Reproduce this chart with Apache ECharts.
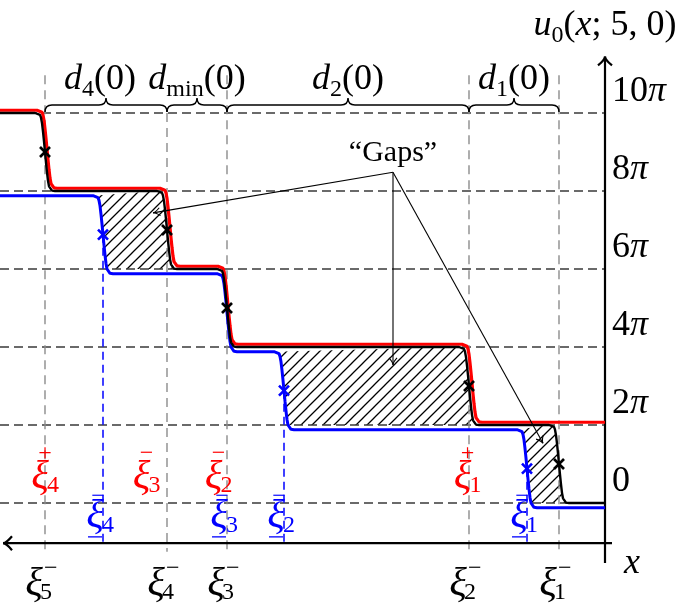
<!DOCTYPE html>
<html>
<head>
<meta charset="utf-8">
<script src="https://cdn.jsdelivr.net/npm/echarts@6/dist/echarts.min.js"></script>
<style>
html, body { margin: 0; padding: 0; background: #fff; }
#chart { width: 685px; height: 608px; }
</style>
</head>
<body>
<div id="chart"></div>
<script>
// x runs to the left (the x arrow points left), u is counted in units of pi
var blackKinks = [4.6, 13.6, 37.8, 43.8, 56.0];   // xi_1^- ... xi_5^-
var redKinks = [13.3, 37.7, 43.5, 55.8];
var blueKinks = [7.8, 32.1, 37.8, 50.2];
var blackBase = 0, redBase = 2.07, blueBase = -0.12;
// one kink profile (offset in x, rise around the centre)
var kinkT = [-1.0, -0.7, -0.5, -0.4, -0.3, -0.2, -0.1, 0, 0.1, 0.2, 0.3, 0.4, 0.5, 0.7, 1.0];
var kinkShape = [-1, -0.99, -0.95, -0.88, -0.74, -0.52, -0.27, 0, 0.27, 0.52, 0.74, 0.88, 0.95, 0.99, 1];
var levels = [0, 2, 4, 6, 8, 10];
var levelLabels = ['0', '2', '4', '6', '8', '10'];
// [black kink, blue kink, lower level]
var gaps = [[4.6, 7.8, 0], [13.6, 32.1, 2], [43.8, 50.2, 6]];
var braces = [[4.6, 13.6], [13.6, 37.8], [37.8, 43.8], [43.8, 56.0]];
var braceSubs = ['1', '2', 'min', '4'];
var blackSubs = ['1', '2', '3', '4', '5'];
var redLabelX = [14.25, 39.15, 46.35, 56.5];
var redSups = ['+', '−', '−', '+'];
var redSubs = ['1', '2', '3', '4'];
var blueSubs = ['1', '2', '3', '4'];
var gapsFrom = [21.2, 8.48];
var gapsTo = [[45.2, 7.44], [21.2, 3.54], [6.2, 1.53]];

var SERIF = '"Liberation Serif", "DejaVu Serif", serif';
function font(size, italic) { return (italic ? 'italic ' : '') + size + 'px ' + SERIF; }
var mctx = document.createElement('canvas').getContext('2d');
function textW(t, size, italic) { mctx.font = font(size, italic); return mctx.measureText(t).width; }

function kinkCurve(kinks, base) {
    var pts = [[0, base]];
    kinks.forEach(function (xk, i) {
        var low = base + 2 * i;
        for (var j = 0; j < kinkT.length; j++) {
            pts.push([xk + kinkT[j], low + 1 + kinkShape[j]]);
        }
    });
    pts.push([60.5, base + 2 * kinks.length]);
    return pts;
}

// hatch pattern
var hatch = document.createElement('canvas');
hatch.width = 11; hatch.height = 11;
(function () {
    var c = hatch.getContext('2d');
    c.strokeStyle = '#000';
    c.lineWidth = 1.3;
    c.beginPath();
    c.moveTo(0, 11); c.lineTo(11, 0);
    c.moveTo(-2, 2); c.lineTo(2, -2);
    c.moveTo(9, 13); c.lineTo(13, 9);
    c.stroke();
})();

function seg(rows, color, width, dash, z) {
    return {
        type: 'custom', z: z, silent: true, data: rows,
        renderItem: function (params, api) {
            var a = api.coord([api.value(0), api.value(1)]);
            var b = api.coord([api.value(2), api.value(3)]);
            return {
                type: 'line',
                shape: { x1: a[0], y1: a[1], x2: b[0], y2: b[1] },
                style: { stroke: color, lineWidth: width, lineDash: dash }
            };
        }
    };
}

function arrows(rows, color, width, len, half, z) {
    return {
        type: 'custom', z: z, silent: true, data: rows,
        renderItem: function (params, api) {
            var a = api.coord([api.value(0), api.value(1)]);
            var b = api.coord([api.value(2), api.value(3)]);
            var dx = b[0] - a[0], dy = b[1] - a[1];
            var L = Math.sqrt(dx * dx + dy * dy);
            dx /= L; dy /= L;
            var nx = -dy, ny = dx;
            var bx = b[0] - dx * len, by = b[1] - dy * len;
            var cx = b[0] - dx * len * 0.35, cy = b[1] - dy * len * 0.35;
            var p = 'M' + (bx + nx * half) + ' ' + (by + ny * half) +
                ' Q' + cx + ' ' + cy + ' ' + b[0] + ' ' + b[1] +
                ' Q' + cx + ' ' + cy + ' ' + (bx - nx * half) + ' ' + (by - ny * half);
            return {
                type: 'group', children: [
                    { type: 'line', shape: { x1: a[0], y1: a[1], x2: b[0], y2: b[1] }, style: { stroke: color, lineWidth: width } },
                    { type: 'path', shape: { pathData: p }, style: { stroke: color, lineWidth: width, fill: null } }
                ]
            };
        }
    };
}

function crosses(pts, color, z) {
    return {
        type: 'custom', z: z, silent: true, data: pts,
        renderItem: function (params, api) {
            var p = api.coord([api.value(0), api.value(1)]);
            var s = 5;
            return {
                type: 'group', children: [
                    { type: 'line', shape: { x1: p[0] - s, y1: p[1] - s, x2: p[0] + s, y2: p[1] + s }, style: { stroke: color, lineWidth: 2.6 } },
                    { type: 'line', shape: { x1: p[0] - s, y1: p[1] + s, x2: p[0] + s, y2: p[1] - s }, style: { stroke: color, lineWidth: 2.6 } }
                ]
            };
        }
    };
}

// text pieces: [text, size, italic, dy]
function run(x, y, pieces, color, align) {
    var total = 0;
    pieces.forEach(function (p) { total += textW(p[0], p[1], p[2]); });
    var cx = align === 'left' ? x : x - total / 2;
    var kids = [];
    pieces.forEach(function (p) {
        kids.push({
            type: 'text', x: cx, y: y + (p[3] || 0),
            style: { text: p[0], font: font(p[1], p[2]), fill: color, align: 'left', verticalAlign: 'middle' }
        });
        cx += textW(p[0], p[1], p[2]);
    });
    return kids;
}

function xiLabel(p, kind, sup, sub, color) {
    var kids = [{ type: 'text', x: p[0], y: p[1], style: { text: 'ξ', font: font(41, true), fill: color, align: 'center', verticalAlign: 'middle' } }];
    if (kind === 'black') {
        kids.push({ type: 'text', x: p[0] + 10, y: p[1] - 15, style: { text: sup, font: font(24), fill: color, align: 'left', verticalAlign: 'middle' } });
        kids.push({ type: 'text', x: p[0] + 6, y: p[1] + 9, style: { text: sub, font: font(24), fill: color, align: 'left', verticalAlign: 'middle' } });
    } else if (kind === 'red') {
        kids.push({ type: 'text', x: p[0] + 5, y: p[1] - 23, style: { text: sup, font: font(24), fill: color, align: 'center', verticalAlign: 'middle' } });
        kids.push({ type: 'text', x: p[0] + 7, y: p[1] + 9, style: { text: sub, font: font(24), fill: color, align: 'left', verticalAlign: 'middle' } });
    } else {
        kids.push({ type: 'text', x: p[0] + 3, y: p[1] - 19, style: { text: sup, font: font(24), fill: color, align: 'center', verticalAlign: 'middle' } });
        kids.push({ type: 'text', x: p[0] + 7, y: p[1] + 10, style: { text: sub, font: font(24), fill: color, align: 'left', verticalAlign: 'middle' } });
        kids.push({ type: 'line', shape: { x1: p[0] - 7, y1: p[1] + 21, x2: p[0] + 7, y2: p[1] + 21 }, style: { stroke: color, lineWidth: 1.3 } });
    }
    return kids;
}

var textItems = [];
braces.forEach(function (b, i) {
    textItems.push({
        x: (b[0] + b[1]) / 2, u: 10.85, draw: function (p) {
            return run(p[0] + (i === 3 ? -6 : 0), p[1], [['d', 36, true], [braceSubs[i], 24, false, 10], ['(0)', 36, false]], '#000');
        }
    });
});
levels.forEach(function (l, i) {
    textItems.push({
        x: 0, u: l + 0.55, draw: function (p) {
            var pieces = [[levelLabels[i], 36, false]];
            if (l !== 0) pieces.push(['π', 36, true]);
            return run(p[0] + 7, p[1], pieces, '#000', 'left');
        }
    });
});
textItems.push({ x: 0, u: 12.25, draw: function (p) {
    return run(p[0], p[1], [['u', 36, true], ['0', 24, false, 10], ['(', 36, false], ['x', 36, true], ['; 5, 0)', 36, false]], '#000');
} });
textItems.push({ x: -2.7, u: -1.56, draw: function (p) { return run(p[0], p[1], [['x', 36, true]], '#000'); } });
textItems.push({ x: gapsFrom[0], u: gapsFrom[1] + 0.5, draw: function (p) { return run(p[0], p[1], [['“Gaps”', 30, false]], '#000'); } });
blackKinks.forEach(function (xk, i) {
    textItems.push({ x: xk, u: -2.08, draw: function (p) { return xiLabel([p[0] - 11, p[1]], 'black', '−', blackSubs[i], '#000'); } });
});
redLabelX.forEach(function (xk, i) {
    textItems.push({ x: xk, u: 0.67, draw: function (p) { return xiLabel([p[0], p[1]], 'red', redSups[i], redSubs[i], '#ff0000'); } });
});
blueKinks.forEach(function (xk, i) {
    textItems.push({ x: xk, u: -0.33, draw: function (p) { return xiLabel([p[0] - 8, p[1]], 'blue', '−', blueSubs[i], '#0000ff'); } });
});

// markers at the kink centres
var blackMarks = blackKinks.map(function (xk, i) { return [xk, blackBase + 2 * i + 1]; });
var blueMarks = [];
blueKinks.forEach(function (xk, i) {
    if (blackKinks.indexOf(xk) < 0) blueMarks.push([xk, blueBase + 2 * i + 1]);
});

var hRows = levels.map(function (l) { return [60.5, l, 0, l]; });
// the xi_4^- line stops under the d_min label
var gRows = blackKinks.map(function (xk, i) { return [xk, i === 3 ? 10 : 10.97, xk, -1.25]; });
var bRows = blueMarks.map(function (m) { return [m[0], m[1], m[0], -1.0]; });

function clamp(v, lo, hi) { return Math.max(lo, Math.min(hi, v)); }

var option = {
    animation: false,
    grid: { left: 0, right: 0, top: 35, bottom: 27 },
    xAxis: { type: 'value', min: -8, max: 60.5, inverse: true, show: false },
    yAxis: { type: 'value', min: -2, max: 12, show: false },
    series: [
        {
            type: 'custom', z: 1, silent: true, data: gaps,
            renderItem: function (params, api) {
                var g = gaps[params.dataIndex], pts = [], j;
                for (j = 0; j < kinkT.length; j++) {
                    pts.push(api.coord([g[0] + kinkT[j], clamp(g[2] + 1 + kinkShape[j], g[2], g[2] + 2)]));
                }
                for (j = kinkT.length - 1; j >= 0; j--) {
                    pts.push(api.coord([g[1] + kinkT[j], clamp(g[2] + 1 + kinkShape[j] + blueBase, g[2], g[2] + 2)]));
                }
                return { type: 'polygon', shape: { points: pts }, style: { fill: { image: hatch, repeat: 'repeat' } } };
            }
        },
        seg(hRows, '#3a3a3a', 1.5, [9, 5], 2),
        seg(gRows, '#8c8c8c', 1.4, [9, 6], 2),
        seg(bRows, '#0000ff', 1.5, [8, 5], 3),
        arrows([[-0.7, -1.03, 60.2, -1.03]], '#000', 2.2, 9, 7, 4),
        arrows([[0, -1.54, 0, 11.45]], '#000', 2.2, 9, 7, 4),
        { type: 'line', z: 5, silent: true, data: kinkCurve(redKinks, redBase), showSymbol: false, lineStyle: { color: '#ff0000', width: 3.2 } },
        { type: 'line', z: 6, silent: true, data: kinkCurve(blueKinks, blueBase), showSymbol: false, lineStyle: { color: '#0000ff', width: 3 } },
        { type: 'line', z: 7, silent: true, data: kinkCurve(blackKinks, blackBase), showSymbol: false, lineStyle: { color: '#000', width: 2.4 } },
        crosses(blueMarks, '#0000ff', 8),
        crosses(blackMarks, '#000', 8),
        arrows(gapsTo.map(function (t) { return [gapsFrom[0], gapsFrom[1], t[0], t[1]]; }), '#000', 1.1, 7, 4, 9),
        {
            type: 'custom', z: 9, silent: true, data: braces,
            renderItem: function (params, api) {
                var b = braces[params.dataIndex];
                var p1 = api.coord([b[0], 10]), p2 = api.coord([b[1], 10]);
                var xa = Math.min(p1[0], p2[0]), xb = Math.max(p1[0], p2[0]), y0 = p1[1] - 1, xm = (xa + xb) / 2, r = 7;
                var d = 'M' + xa + ' ' + y0 + ' Q' + xa + ' ' + (y0 - r) + ' ' + (xa + r) + ' ' + (y0 - r) +
                    ' L' + (xm - r) + ' ' + (y0 - r) + ' Q' + xm + ' ' + (y0 - r) + ' ' + xm + ' ' + (y0 - 2 * r) +
                    ' Q' + xm + ' ' + (y0 - r) + ' ' + (xm + r) + ' ' + (y0 - r) +
                    ' L' + (xb - r) + ' ' + (y0 - r) + ' Q' + xb + ' ' + (y0 - r) + ' ' + xb + ' ' + y0;
                return { type: 'path', shape: { pathData: d }, style: { stroke: '#000', lineWidth: 1.5, fill: null } };
            }
        },
        {
            type: 'custom', z: 10, silent: true,
            data: textItems.map(function (t) { return [t.x, t.u]; }),
            renderItem: function (params, api) {
                var t = textItems[params.dataIndex];
                return { type: 'group', children: t.draw(api.coord([t.x, t.u])) };
            }
        }
    ]
};

var chart = echarts.init(document.getElementById('chart'));
chart.setOption(option);
window.addEventListener('resize', function () { chart.resize(); });
</script>
</body>
</html>
